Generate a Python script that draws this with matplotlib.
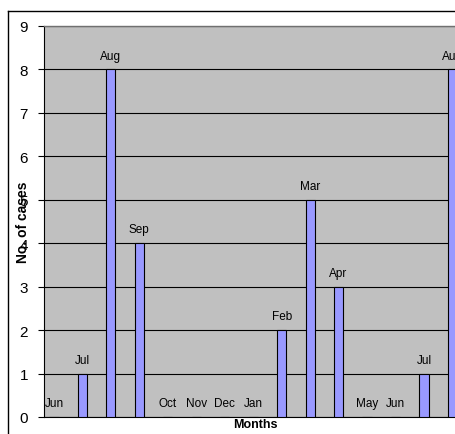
import matplotlib
matplotlib.use("Agg")
import matplotlib.pyplot as plt
from matplotlib.lines import Line2D

months = ["Jun", "Jul", "Aug", "Sep", "Oct", "Nov", "Dec", "Jan",
          "Feb", "Mar", "Apr", "May", "Jun", "Jul", "Aug"]
cases = [0, 1, 8, 4, 0, 0, 0, 0, 2, 5, 3, 0, 0, 1, 8]
yticks = list(range(0, 10))

plt.rcParams['font.family'] = ['Liberation Sans', 'DejaVu Sans']

W, H = 455, 435
fig = plt.figure(figsize=(W / 100, H / 100), dpi=100)
fig.patch.set_facecolor("white")

ax = fig.add_axes([44 / W, (H - 418) / H, (W - 44) / W, (418 - 27) / H])
ax.set_facecolor("#C0C0C0")

x = list(range(len(months)))
ax.bar(x, cases, width=0.32, color="#9999FF", edgecolor="black", linewidth=0.8, zorder=3)

for xi, v, m in zip(x, cases, months):
    ax.annotate(m, (xi, v), xytext=(0, 10), textcoords="offset points",
                ha="center", va="center", fontsize=8.5, color="black", zorder=4,
                annotation_clip=False)

ax.set_xlim(-0.35, 14.09)
ax.set_ylim(0, 9)
ax.set_yticks(yticks)
ax.set_yticklabels([str(t) for t in yticks], fontsize=11)
ax.tick_params(axis="y", direction="out", length=4.5, width=0.8, pad=7, colors="black")
ax.set_xticks([])
ax.yaxis.grid(True, color="black", linewidth=0.8, zorder=1)
ax.set_axisbelow(True)

ax.spines["left"].set_color("black")
ax.spines["left"].set_linewidth(0.8)
ax.spines["bottom"].set_color("black")
ax.spines["bottom"].set_linewidth(0.8)
ax.spines["top"].set_color("#707070")
ax.spines["top"].set_linewidth(1.0)
ax.spines["right"].set_visible(False)

fig.text(255 / W, 1 - 425 / H, "Months", ha="center", va="center",
         fontsize=9, fontweight="bold")
fig.text(23 / W, 1 - 222 / H, "No. of cases", ha="center", va="center",
         rotation=90, fontsize=10, fontweight="bold")

# outer chart border
fig.add_artist(Line2D([8 / W, 8 / W], [0, 1 - 12 / H], transform=fig.transFigure,
                      color="black", linewidth=1.0))
fig.add_artist(Line2D([8 / W, 1], [1 - 12 / H, 1 - 12 / H], transform=fig.transFigure,
                      color="black", linewidth=1.0))

fig.savefig("out.png", dpi=100)
